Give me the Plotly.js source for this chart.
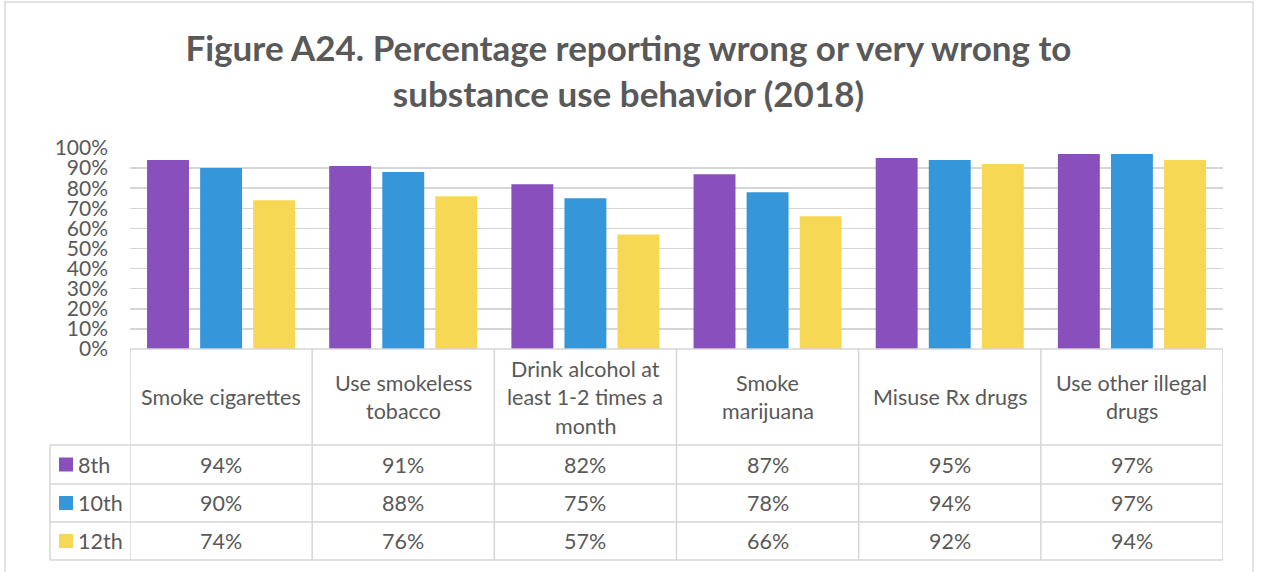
<!DOCTYPE html>
<html>
<head>
<meta charset="utf-8">
<script src="https://cdn.plot.ly/plotly-3.0.1.min.js"></script>
<style>
  html, body { margin: 0; padding: 0; background: #ffffff; }
  #chart { width: 1262px; height: 572px; }
</style>
</head>
<body>
<div id="chart"></div>
<script>
// Behaviour categories (each entry split into the lines shown in the table header)
const categories = [
  'Smoke cigarettes',
  'Use smokeless tobacco',
  'Drink alcohol at least 1-2 times a month',
  'Smoke marijuana',
  'Misuse Rx drugs',
  'Use other illegal drugs'
];
const categoryLines = [
  ['Smoke cigarettes'],
  ['Use smokeless', 'tobacco'],
  ['Drink alcohol at', 'least 1-2 times a', 'month'],
  ['Smoke', 'marijuana'],
  ['Misuse Rx drugs'],
  ['Use other illegal', 'drugs']
];

// Grade levels and their percentages
const grades = ['8th', '10th', '12th'];
const values8th  = [94, 91, 82, 87, 95, 97];
const values10th = [90, 88, 75, 78, 94, 97];
const values12th = [74, 76, 57, 66, 92, 94];
const seriesValues = [values8th, values10th, values12th];
const seriesColors = ['#894fbc', '#3597d9', '#f7d855'];

const yTicks = [0, 10, 20, 30, 40, 50, 60, 70, 80, 90, 100];

// Figure geometry
const W = 1262, H = 572;
const M = { l: 130, r: 39, t: 148, b: 223 };
const plotW = W - M.l - M.r;
const plotH = H - M.t - M.b;
const px = x => (x - M.l) / plotW;          // pixel column -> paper x
const py = y => (H - M.b - y) / plotH;      // pixel row -> paper y

const textColor = '#595959';
const lineColor = '#d6d6d6';
const fontFamily = 'Lato, "Open Sans", sans-serif';
const tableFont = { family: fontFamily, size: 21.5, color: textColor };

const traces = grades.map((g, i) => ({
  type: 'bar',
  name: g,
  x: categories,
  y: seriesValues[i],
  marker: { color: seriesColors[i] },
  hoverinfo: 'x+y+name'
}));

// Data table underneath the plot
const headerTop = 349, headerBottom = 445;
const rowBounds = [445, 484, 522, 560];
const tableLeft = 50;

const shapes = [];
const line = (x0, y0, x1, y1, xref) => shapes.push({
  type: 'line', xref: xref || 'paper', yref: 'paper',
  x0, y0, x1, y1, line: { color: lineColor, width: 1.5 }
});

// outer chart frame
shapes.push({
  type: 'rect', xref: 'paper', yref: 'paper',
  x0: px(5), x1: px(1253), y0: py(2), y1: py(600),
  line: { color: '#d9d9d9', width: 1.5 }
});

// horizontal table rules
line(0, py(headerTop), 1, py(headerTop));
rowBounds.forEach(r => line(px(tableLeft), py(r), 1, py(r)));
// vertical table rules
line(px(tableLeft), py(headerBottom), px(tableLeft), py(rowBounds[3]));
for (let i = 0; i <= categories.length; i++) {
  line(i - 0.5, py(headerTop), i - 0.5, py(rowBounds[3]), 'x');
}

const annotations = [];
// header labels
const headerMid = (headerTop + headerBottom) / 2;
const lineGap = 28.5;
categoryLines.forEach((lines, i) => {
  lines.forEach((t, k) => {
    annotations.push({
      text: t, xref: 'x', yref: 'paper', x: i,
      y: py(headerMid + (k - (lines.length - 1) / 2) * lineGap),
      showarrow: false, xanchor: 'center', yanchor: 'middle',
      font: tableFont
    });
  });
});

// row labels with colour keys, and values
grades.forEach((g, r) => {
  const mid = (rowBounds[r] + rowBounds[r + 1]) / 2;
  shapes.push({
    type: 'rect', xref: 'paper', yref: 'paper',
    x0: px(59), x1: px(73), y0: py(mid - 7), y1: py(mid + 7),
    fillcolor: seriesColors[r], line: { width: 0 }
  });
  annotations.push({
    text: g, xref: 'paper', yref: 'paper', x: px(76), y: py(mid),
    showarrow: false, xanchor: 'left', yanchor: 'middle',
    font: tableFont
  });
  seriesValues[r].forEach((v, i) => {
    annotations.push({
      text: v + '%', xref: 'x', yref: 'paper', x: i, y: py(mid),
      showarrow: false, xanchor: 'center', yanchor: 'middle',
      font: tableFont
    });
  });
});

const layout = {
  width: W, height: H,
  margin: M,
  paper_bgcolor: '#ffffff',
  plot_bgcolor: '#ffffff',
  showlegend: false,
  barmode: 'group',
  bargap: 0.126,
  bargroupgap: 0.21,
  title: {
    text: 'Figure A24. Percentage reporting wrong or very wrong to<br>substance use behavior (2018)',
    font: { family: fontFamily, size: 35, color: textColor, weight: 'bold' },
    xref: 'container', x: 0.498, xanchor: 'center',
    yref: 'container', y: 1 - 61 / H, yanchor: 'middle'
  },
  xaxis: {
    type: 'category',
    range: [-0.5, categories.length - 0.5],
    showticklabels: false,
    showgrid: false, zeroline: false, showline: false, ticks: ''
  },
  yaxis: {
    range: [0, 100],
    tickvals: yTicks,
    ticktext: yTicks.map(v => v + '%'),
    showgrid: true, gridcolor: lineColor, gridwidth: 1.5,
    zeroline: false, showline: false, ticks: '',
    ticklabelstandoff: 21,
    tickfont: { family: fontFamily, size: 21, color: textColor }
  },
  shapes, annotations
};

Plotly.newPlot('chart', traces, layout, { displayModeBar: false, staticPlot: true });
</script>
</body>
</html>
